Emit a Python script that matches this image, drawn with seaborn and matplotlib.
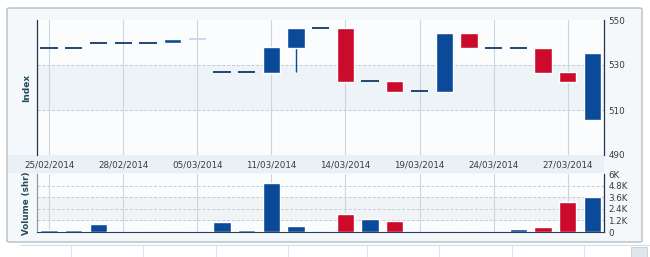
import matplotlib
matplotlib.use("Agg")
import matplotlib.pyplot as plt
import seaborn as sns
import numpy as np
import pandas as pd
from matplotlib.patches import Rectangle, FancyBboxPatch
from matplotlib.lines import Line2D

# ---------------- data ----------------
dates = ["25/02/2014", "26/02/2014", "27/02/2014", "28/02/2014", "03/03/2014",
         "04/03/2014", "05/03/2014", "07/03/2014", "10/03/2014", "11/03/2014",
         "12/03/2014", "13/03/2014", "14/03/2014", "17/03/2014", "18/03/2014",
         "19/03/2014", "20/03/2014", "21/03/2014", "24/03/2014", "25/03/2014",
         "26/03/2014", "27/03/2014", "28/03/2014"]
open_ = [537.7, 537.7, 540.0, 540.0, 540.0, 539.6, 541.4, 526.9, 526.9, 526.6,
         537.4, 546.3, 546.3, 522.7, 522.7, 518.3, 518.0, 544.1, 537.7, 537.7,
         537.7, 526.8, 505.6]
close = [537.7, 537.7, 540.0, 540.0, 540.0, 541.7, 541.4, 526.9, 526.9, 537.9,
         546.3, 546.3, 522.4, 522.7, 518.0, 518.3, 544.1, 537.4, 537.7, 537.7,
         526.6, 522.4, 535.5]
low = [537.7, 537.7, 540.0, 540.0, 540.0, 539.6, 541.4, 526.9, 526.9, 526.6,
       527.0, 546.3, 522.4, 522.7, 518.0, 518.3, 518.0, 537.4, 537.7, 537.7,
       526.6, 522.4, 505.6]
high = [537.7, 537.7, 540.0, 540.0, 540.0, 541.7, 541.4, 526.9, 526.9, 537.9,
        546.3, 546.3, 546.3, 522.7, 522.7, 518.3, 544.1, 544.1, 537.7, 537.7,
        537.7, 526.8, 535.5]
volume = [200, 200, 830, 0, 0, 0, 0, 1000, 200, 5100, 600, 0, 1850, 1350, 1150,
          0, 0, 0, 0, 300, 500, 3100, 3650]
faint_days = ["05/03/2014"]

price_ticks = [490, 510, 530, 550]
vol_ticks = [0, 1200, 2400, 3600, 4800, 6000]
vol_tick_labels = ["0", "1.2K", "2.4K", "3.6K", "4.8K", "6K"]

BLUE = "#0b4a98"
RED = "#cc0a2c"
NAVY = "#123a66"
FAINT = "#c6d6e6"

df = pd.DataFrame({"date": dates, "open": open_, "close": close,
                   "low": low, "high": high, "volume": volume})
df["idx"] = np.arange(len(df))
df["dir"] = np.where(df["close"] >= df["open"], "up", "down")

# ---------------- figure ----------------
sns.set_style("white")
plt.rcParams["font.family"] = ["DejaVu Sans"]
W, H = 650, 257
fig = plt.figure(figsize=(W / 100, H / 100), dpi=100)
fig.patch.set_facecolor("white")

def fx(px):
    return px / W

def fy(py):
    return 1 - py / H

# outer panel
panel = FancyBboxPatch((fx(7), fy(242)), fx(642) - fx(7), fy(8) - fy(242),
                       boxstyle="round,pad=0,rounding_size=0.004",
                       transform=fig.transFigure, facecolor="#f5f8fa",
                       edgecolor="#b3bec6", linewidth=1.0, zorder=-3)
fig.add_artist(panel)
# date label strip
fig.add_artist(Rectangle((fx(8), fy(173)), fx(604) - fx(8), fy(155) - fy(173),
                         transform=fig.transFigure, facecolor="#e9f1f6",
                         edgecolor="none", zorder=-2))
# bottom navigator strip
fig.add_artist(Line2D([fx(20), fx(650)], [fy(245), fy(245)],
                      transform=fig.transFigure, color="#d5dde3", lw=0.8, zorder=-2))
for gx in [71, 143, 216, 288, 367, 439, 512, 584]:
    fig.add_artist(Line2D([fx(gx), fx(gx)], [fy(246), fy(257)],
                          transform=fig.transFigure, color="#dde4ea", lw=0.8, zorder=-2))
fig.add_artist(Rectangle((fx(631), fy(257)), fx(16), fy(247) - fy(257),
                         transform=fig.transFigure, facecolor="#dfe7ee",
                         edgecolor="#c4ced6", lw=0.6, zorder=-2))

L, R = 37, 604
ax = fig.add_axes([fx(L), fy(155), fx(R) - fx(L), fy(20) - fy(155)])
axv = fig.add_axes([fx(L), fy(232), fx(R) - fx(L), fy(174) - fy(232)])

xlim = (-0.49, 22.47)
tick_pos = df["idx"].values[::3]

# ---------- price pane ----------
ax.set_facecolor("#fbfcfd")
ax.axhspan(510, 530, color="#eef3f7", zorder=0)
for yv in [510, 530]:
    ax.axhline(yv, color="#c3ccd3", lw=0.7, ls=(0, (3, 2)), zorder=1)
for xv in tick_pos:
    ax.axvline(xv, color="#cad6de", lw=0.8, zorder=1)

bw = 0.7
for _, r in df.iterrows():
    faint = r["date"] in faint_days
    if r["high"] > max(r["open"], r["close"]) or r["low"] < min(r["open"], r["close"]):
        ax.vlines(r["idx"], r["low"], r["high"], color=BLUE if r["dir"] == "up" else RED,
                  lw=1.0, zorder=2)
    if r["open"] == r["close"]:
        ax.hlines(r["open"], r["idx"] - bw / 2, r["idx"] + bw / 2,
                  color=FAINT if faint else NAVY, lw=1.3, zorder=3)
    else:
        ax.bar(r["idx"], abs(r["close"] - r["open"]), bottom=min(r["open"], r["close"]),
               width=bw, color=BLUE if r["dir"] == "up" else RED, zorder=3)

ax.set_xlim(*xlim)
ax.set_ylim(490, 550)
ax.yaxis.tick_right()
ax.set_yticks(price_ticks)
ax.set_yticklabels([str(t) for t in price_ticks])
ax.set_xticks(tick_pos)
ax.set_xticklabels(df["date"].values[::3])
ax.tick_params(axis="x", length=0, pad=4, labelsize=6.3, labelcolor="#3a3a3a")
ax.tick_params(axis="y", length=0, pad=3, labelsize=6.3, labelcolor="#3a3a3a")
for s in ["top", "bottom"]:
    ax.spines[s].set_visible(False)
for s in ["left", "right"]:
    ax.spines[s].set_color("#1f3550")
    ax.spines[s].set_linewidth(0.9)
ax.set_ylabel("Index", fontsize=6.5, fontweight="bold", color="#214d5c")

# ---------- volume pane ----------
axv.set_facecolor("#fbfcfd")
axv.axhspan(1200, 3600, color="#f0f4f7", zorder=0)
for yv in [1200, 2400, 3600, 4800]:
    axv.axhline(yv, color="#c3ccd3", lw=0.7, ls=(0, (3, 2)), zorder=1)
for xv in tick_pos:
    axv.axvline(xv, color="#cad6de", lw=0.8, zorder=1)

sns.barplot(data=df, x="idx", y="volume", hue="dir",
            palette={"up": BLUE, "down": RED}, width=0.7, dodge=False,
            saturation=1, legend=False, ax=axv, zorder=3)
zero = df[df["volume"] == 0]
axv.hlines(np.zeros(len(zero)), zero["idx"] - bw / 2, zero["idx"] + bw / 2,
           color="#d3dbe2", lw=1.0, zorder=2)

axv.set_xlim(*xlim)
axv.set_ylim(0, 6000)
axv.yaxis.tick_right()
axv.set_yticks(vol_ticks)
axv.set_yticklabels(vol_tick_labels)
axv.set_xticks([])
axv.set_xlabel("")
axv.tick_params(axis="y", length=0, pad=3, labelsize=6.3, labelcolor="#3a3a3a")
axv.spines["top"].set_visible(False)
axv.spines["bottom"].set_color("#2a3f58")
axv.spines["bottom"].set_linewidth(0.8)
axv.spines["left"].set_color("#8f9ca8")
axv.spines["left"].set_linewidth(0.9)
axv.spines["right"].set_color("#1f3550")
axv.spines["right"].set_linewidth(0.9)
axv.set_ylabel("Volume (shr)", fontsize=6.3, fontweight="bold", color="#214d5c")

ax.yaxis.set_label_coords(-0.01, 0.5)
axv.yaxis.set_label_coords(-0.01, 0.5)

fig.savefig("out.png", dpi=100)
